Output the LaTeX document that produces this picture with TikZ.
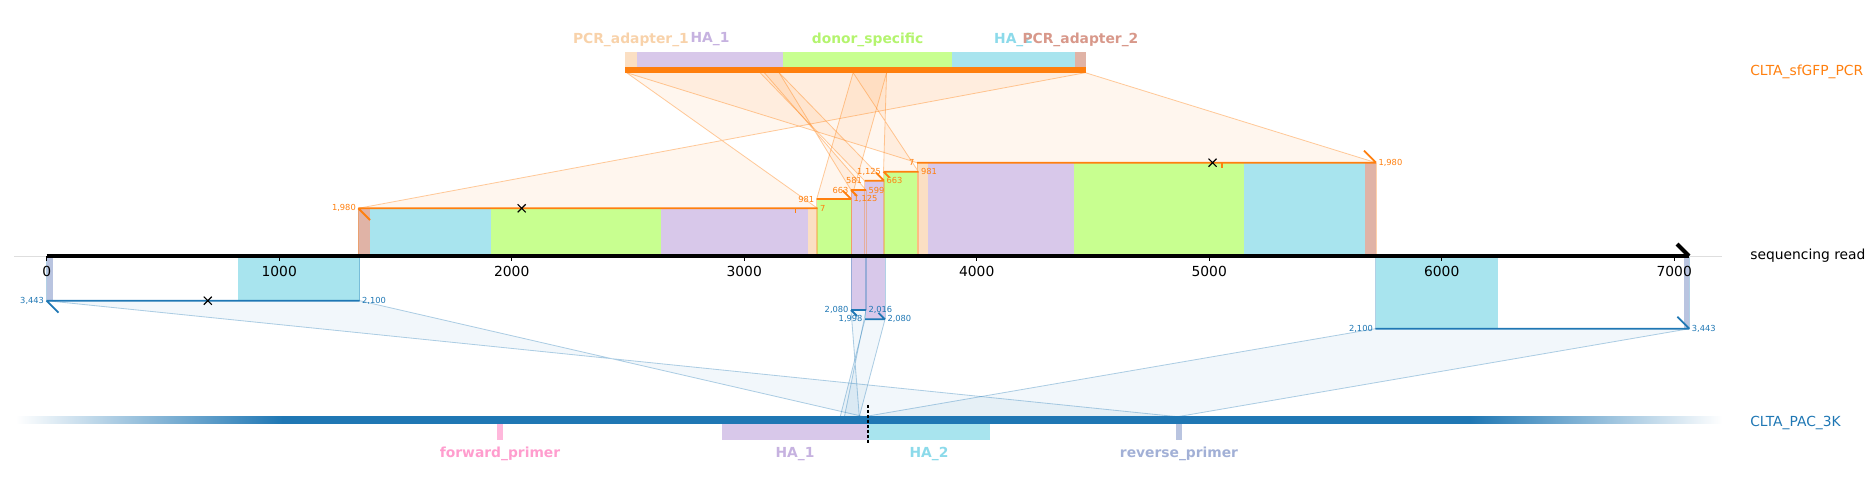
\documentclass[tikz,border=0pt]{standalone}
\usepackage{fontspec}
\setmainfont{DejaVu Sans}
\usetikzlibrary{shapes.misc}

\definecolor{orng}{HTML}{FF7F0E}
\definecolor{blu}{HTML}{1F77B4}
\definecolor{adpA}{HTML}{FBDFC3}
\definecolor{adpB}{HTML}{E0B3A6}
\definecolor{haA}{HTML}{D8C8EA}
\definecolor{haB}{HTML}{A8E4EE}
\definecolor{dnr}{HTML}{C8FF90}
\definecolor{fwdp}{HTML}{FFB8DC}
\definecolor{revp}{HTML}{B9C4E0}
\definecolor{adpAt}{HTML}{F8D2AA}
\definecolor{adpBt}{HTML}{D8988A}
\definecolor{haAt}{HTML}{C6B2E0}
\definecolor{haBt}{HTML}{8CDAEA}
\definecolor{dnrt}{HTML}{B4F46E}
\definecolor{fwdpt}{HTML}{FF9DCE}
\definecolor{revpt}{HTML}{A2B0D6}

\pgfdeclarehorizontalshading{tgtbar}{100bp}{color(0bp)=(white); color(25bp)=(white);
	color(32.8bp)=(blu); color(67.6bp)=(blu); color(75bp)=(white); color(100bp)=(white)}

\begin{document}
\begin{tikzpicture}[
		x=0.01in, y=-0.01in,
		every node/.style={inner sep=0pt},
		featlbl/.style={font=\bfseries\fontsize{10}{12}\selectfont},
		trklbl/.style={font=\fontsize{10}{12}\selectfont, anchor=west},
		coordlbl/.style={font=\fontsize{6}{7}\selectfont, inner sep=1.6pt},
		aln/.style={line width=1.3pt},
		extent/.style={line width=0.6pt, opacity=0.35},
		xmk/.style={draw=black, cross out, minimum size=5pt, line width=0.8pt}
		]
		
		\useasboundingbox (0,0) rectangle (1876,492);
		
		\coordinate (ax) at (0,256);
		\coordinate (don7) at (626.6,72.7);
		\coordinate (don581) at (760.1,72.7);
		\coordinate (don599) at (764.3,72.7);
		\coordinate (don663) at (779.1,72.7);
		\coordinate (don981) at (853.1,72.7);
		\coordinate (don1125) at (886.6,72.7);
		\coordinate (don1980) at (1085.4,72.7);
		\coordinate (tgt1998) at (840.2,416.7);
		\coordinate (tgt2016) at (844.4,416.7);
		\coordinate (tgt2080) at (859.3,416.7);
		\coordinate (tgt2100) at (864,416.7);
		\coordinate (tgt3443) at (1177.6,416.7);
		
		\coordinate (aL) at (358.3,208.3); \coordinate (aR) at (817.5,208.3);
		\coordinate (bL) at (816.7,199);   \coordinate (bR) at (851.2,199);
		\coordinate (cL) at (851,190);     \coordinate (cR) at (866,190);
		\coordinate (dL) at (864.5,180.7); \coordinate (dR) at (884,180.7);
		\coordinate (eL) at (883.5,171.7); \coordinate (eR) at (918.5,171.7);
		\coordinate (fL) at (917,162.7);   \coordinate (fR) at (1376,162.7);
		\coordinate (pL) at (46.5,300.7);  \coordinate (pR) at (359.7,300.7);
		\coordinate (qL) at (851,310);     \coordinate (qR) at (866,310);
		\coordinate (rL) at (865,319.3);   \coordinate (rR) at (885,319.3);
		\coordinate (sL) at (1375.3,328.7);\coordinate (sR) at (1689.4,328.7);
		
		\foreach \p/\q/\r/\s in {aL/don1980/aR/don7, bL/don981/bR/don1125, cL/don663/cR/don599,
			dL/don581/dR/don663, eL/don1125/eR/don981, fL/don7/fR/don1980} {
			\fill[orng, opacity=0.07] (\p) -- (\q) -- (\s) -- (\r) -- cycle;
			\draw[orng, opacity=0.4, line width=0.6pt] (\p) -- (\q) (\r) -- (\s);
		}
		\foreach \p/\q/\r/\s in {pL/tgt3443/pR/tgt2100, qL/tgt2080/qR/tgt2016,
			rL/tgt1998/rR/tgt2080, sL/tgt2100/sR/tgt3443} {
			\fill[blu, opacity=0.06] (\p) -- (\q) -- (\s) -- (\r) -- cycle;
			\draw[blu, opacity=0.35, line width=0.6pt] (\p) -- (\q) (\r) -- (\s);
		}
		
		\foreach \xa/\xb/\ya/\cl in {358.3/369.5/208.3/adpB, 369.5/491/208.3/haB, 491/660.5/208.3/dnr,
			660.5/807.5/208.3/haA, 807.5/817.5/208.3/adpA, 816.7/851.2/199/dnr, 851/866/190/haA,
			864.5/884/180.7/haA, 883.5/918.5/171.7/dnr, 917/927.5/162.7/adpA, 927.5/1073.6/162.7/haA,
			1073.6/1244.3/162.7/dnr, 1244.3/1365.4/162.7/haB, 1365.4/1376/162.7/adpB,
			46.5/52.8/300.7/revp, 238/359.7/300.7/haB, 851/866/310/haA, 866/885/319.3/haA,
			1376.4/1497.6/328.7/haB, 1684/1689.4/328.7/revp}
		\fill[\cl] (\xa,\ya) rectangle (\xb,256);
		
		\foreach \n in {aL,aR,bL,bR,cL,cR,dL,dR,eL,eR,fL,fR}
		\draw[orng, extent] (\n) -- (\n |- ax);
		\foreach \n in {pL,pR,qL,qR,rL,rR,sL,sR}
		\draw[blu, extent] (\n) -- (\n |- ax);
		
		% CLTA_sfGFP_PCR
		\foreach \xa/\xb/\cl in {625/636.9/adpA, 636.9/783/haA, 783/952.2/dnr, 952.2/1075/haB, 1075/1085.8/adpB}
		\fill[\cl] (\xa,52) rectangle (\xb,66.5);
		\draw[orng, line width=4.3pt] (625,69.7) -- (1085.8,69.7);
		\node[featlbl, text=adpAt] (fAdA) at (630.9,39.5) {PCR\_adapter\_1};
		\node[featlbl, text=haAt] (fHaA) at (710,39.5) {HA\_1};
		\node[featlbl, text=dnrt] (fDnr) at (867.6,39.5) {donor\_specific};
		\node[featlbl, text=haBt] (fHaB) at (1013.6,39.5) {HA\_2};
		\node[featlbl, text=adpBt] (fAdB) at (1080.4,39.5) {PCR\_adapter\_2};
		\node[trklbl, text=orng] (tkDonor) at (1750,72) {CLTA\_sfGFP\_PCR};
		
		% sequencing read
		\draw[black!13, line width=0.6pt] (14,256) -- (1722,256);
		\draw[line width=3pt] (46.7,256) -- (1689,256);
		\draw[line width=3pt, line cap=butt] (1689,256) -- (1677,244);
		\foreach \k in {0,...,7} {
			\pgfmathtruncatemacro\tv{1000*\k}
			\draw[line width=0.8pt] (46.7+232.5*\k,256) -- ++(0,5);
			\node[font=\fontsize{10}{12}\selectfont] (tick\k) at (46.7+232.5*\k,271) {\tv};
		}
		\node[trklbl] (tkRead) at (1750,256) {sequencing read};
		
		% alignments
		\draw[orng, aln] (aL) -- (aR) (aL) -- ++(11.7,11.7);
		\draw[orng, aln] (bL) -- (bR) (bR) -- ++(-8.5,-8.5);
		\draw[orng, aln] (cL) -- (cR) (cL) -- ++(6,6);
		\draw[orng, aln] (dL) -- (dR) (dR) -- ++(-8,-8);
		\draw[orng, aln] (eL) -- (eR) (eL) -- ++(6,6);
		\draw[orng, aln] (fL) -- (fR) (fR) -- ++(-12,-12);
		\draw[blu, aln] (pL) -- (pR) (pL) -- ++(12,12);
		\draw[blu, aln] (qL) -- (qR) (qL) -- ++(6,6);
		\draw[blu, aln] (rL) -- (rR) (rR) -- ++(-6.5,-6.5);
		\draw[blu, aln] (sL) -- (sR) (sR) -- ++(-12,-12);
		\draw[orng, line width=1pt] (795.7,208.3) -- ++(0,5);
		\draw[orng, line width=1pt] (1222,162.7) -- ++(0,5);
		\node[xmk] (xA) at (521.7,208.3) {};
		\node[xmk] (xF) at (1212.5,162.7) {};
		\node[xmk] (xP) at (207.8,300.7) {};
		
		\node[coordlbl, text=orng, anchor=east] (aLl) at (aL) {1,980};
		\node[coordlbl, text=orng, anchor=west] (aRl) at (aR) {7};
		\node[coordlbl, text=orng, anchor=east] (bLl) at (bL) {981};
		\node[coordlbl, text=orng, anchor=west] (bRl) at (bR) {1,125};
		\node[coordlbl, text=orng, anchor=east] (cLl) at (cL) {663};
		\node[coordlbl, text=orng, anchor=west] (cRl) at (cR) {599};
		\node[coordlbl, text=orng, anchor=east] (dLl) at (dL) {581};
		\node[coordlbl, text=orng, anchor=west] (dRl) at (dR) {663};
		\node[coordlbl, text=orng, anchor=east] (eLl) at (eL) {1,125};
		\node[coordlbl, text=orng, anchor=west] (eRl) at (eR) {981};
		\node[coordlbl, text=orng, anchor=east] (fLl) at (fL) {7};
		\node[coordlbl, text=orng, anchor=west] (fRl) at (fR) {1,980};
		\node[coordlbl, text=blu, anchor=east] (pLl) at (pL) {3,443};
		\node[coordlbl, text=blu, anchor=west] (pRl) at (pR) {2,100};
		\node[coordlbl, text=blu, anchor=east] (qLl) at (qL) {2,080};
		\node[coordlbl, text=blu, anchor=west] (qRl) at (qR) {2,016};
		\node[coordlbl, text=blu, anchor=east] (rLl) at (rL) {1,998};
		\node[coordlbl, text=blu, anchor=west] (rRl) at (rR) {2,080};
		\node[coordlbl, text=blu, anchor=east] (sLl) at (sL) {2,100};
		\node[coordlbl, text=blu, anchor=west] (sRl) at (sR) {3,443};
		
		% CLTA_PAC_3K
		\shade[shading=tgtbar] (16,416.5) rectangle (1722,423.7);
		\foreach \xa/\xb/\cl in {497/503/fwdp, 722/868/haA, 868/989.8/haB, 1176/1182/revp}
		\fill[\cl] (\xa,424) rectangle (\xb,440);
		\draw[dashed, dash pattern=on 2.2pt off 1.4pt, line width=0.8pt] (868,405) -- (868,444);
		\node[featlbl, text=fwdpt] (gFwd) at (500,454) {forward\_primer};
		\node[featlbl, text=haAt] (gHaA) at (795,454) {HA\_1};
		\node[featlbl, text=haBt] (gHaB) at (929,454) {HA\_2};
		\node[featlbl, text=revpt] (gRev) at (1179,454) {reverse\_primer};
		\node[trklbl, text=blu] (tkTgt) at (1750,423) {CLTA\_PAC\_3K};
		
	\end{tikzpicture}
\end{document}
